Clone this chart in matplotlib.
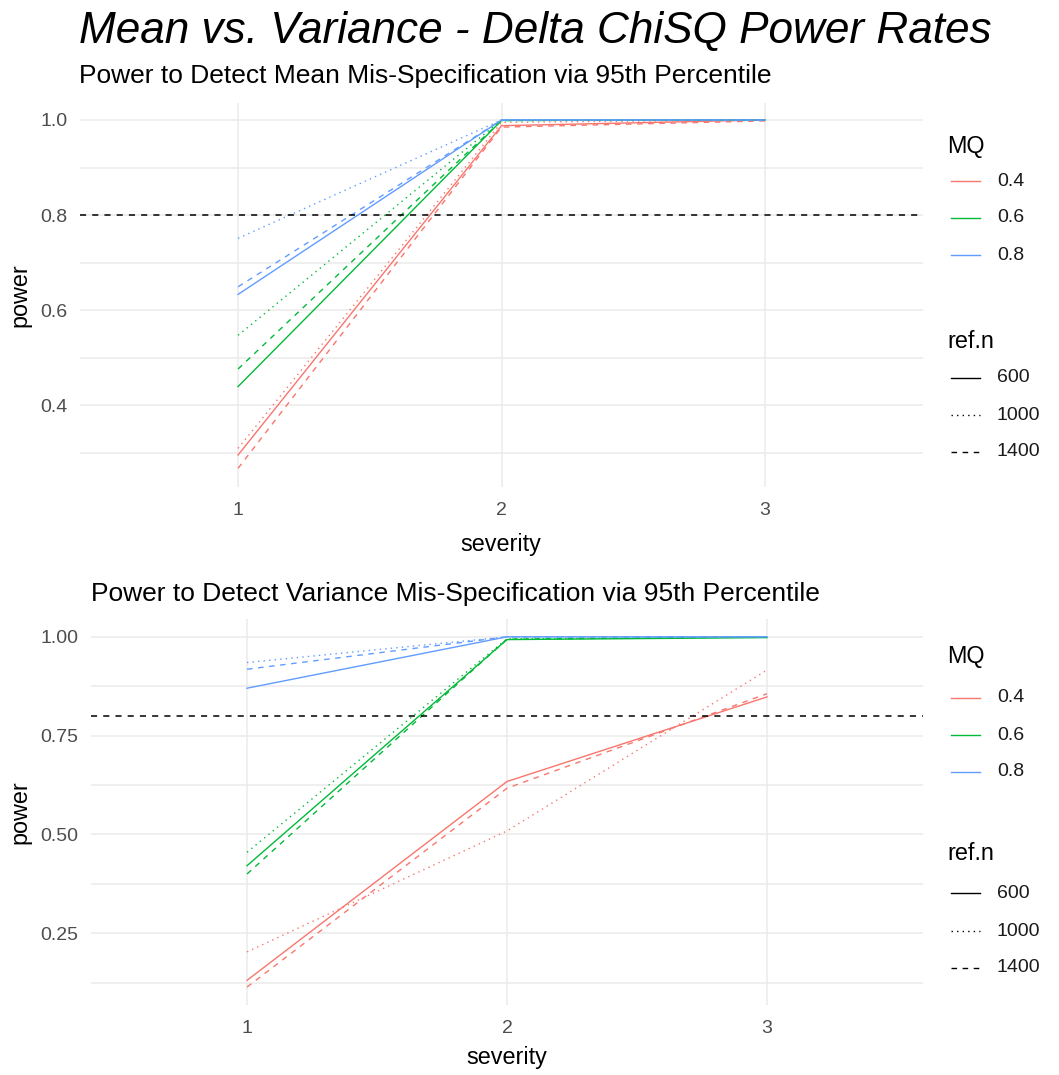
import numpy as np
import matplotlib.pyplot as plt
from matplotlib.lines import Line2D

plt.rcParams['font.family'] = ['Liberation Sans', 'DejaVu Sans']

# DATA
severity = [1, 2, 3]
mq_levels = ["0.4", "0.6", "0.8"]
refn_levels = ["600", "1000", "1400"]

# mean mis-specification (top panel), one list per MQ / ref.n
mean_04 = {"600": [0.295, 0.988, 1.0], "1000": [0.309, 0.995, 1.0], "1400": [0.267, 0.985, 0.998]}
mean_06 = {"600": [0.439, 0.999, 1.0], "1000": [0.547, 1.0, 1.0], "1400": [0.476, 0.999, 1.0]}
mean_08 = {"600": [0.633, 1.0, 1.0], "1000": [0.751, 1.0, 1.0], "1400": [0.649, 1.0, 1.0]}

# variance mis-specification (bottom panel)
var_04 = {"600": [0.131, 0.634, 0.848], "1000": [0.203, 0.509, 0.916], "1400": [0.114, 0.617, 0.856]}
var_06 = {"600": [0.421, 0.993, 0.998], "1000": [0.455, 0.995, 1.0], "1400": [0.400, 0.994, 1.0]}
var_08 = {"600": [0.870, 1.0, 1.0], "1000": [0.935, 1.0, 1.0], "1400": [0.918, 1.0, 1.0]}

power_target = 0.8

colors = {"0.4": "#F8766D", "0.6": "#00BA38", "0.8": "#619CFF"}
styles = {"600": "-", "1000": (0, (1, 3)), "1400": (0, (4, 4))}
LW = 1.0

W, H = 1059, 1075
fig = plt.figure(figsize=(W / 100, H / 100), dpi=100)


def box(l, t, r, b):
    return [l / W, 1 - b / H, (r - l) / W, (b - t) / H]


def fx(x):
    return x / W


def fy(y):
    return 1 - y / H


def panel(rect, data, yticks, yminor, fmt):
    ax = fig.add_axes(rect)
    for mq, d in zip(mq_levels, data):
        for rn in refn_levels:
            ax.plot(severity, d[rn], color=colors[mq], linestyle=styles[rn], lw=LW, zorder=3)
    ax.axhline(power_target, color="black", linestyle=(0, (4, 4)), lw=1.1, zorder=4)
    ax.set_xlim(0.4, 3.6)
    ax.set_xticks(severity)
    ax.set_yticks(yticks)
    ax.set_yticks(yminor, minor=True)
    ax.set_yticklabels([fmt % v for v in yticks])
    ax.grid(True, which="both", color="#EBEBEB", lw=1.1, zorder=0)
    ax.set_axisbelow(True)
    ax.tick_params(which="both", length=0, labelsize=14, labelcolor="#4D4D4D")
    ax.tick_params(axis="y", pad=9)
    ax.tick_params(axis="x", pad=11)
    for s in ax.spines.values():
        s.set_visible(False)
    return ax


ax1 = panel(box(80, 102.5, 923, 486.7), [mean_04, mean_06, mean_08],
            [0.4, 0.6, 0.8, 1.0], [0.3, 0.5, 0.7, 0.9], "%.1f")
ax1.set_ylim(0.2283, 1.0368)

ax2 = panel(box(91, 619.3, 923, 1004.6), [var_04, var_06, var_08],
            [0.25, 0.5, 0.75, 1.0], [0.125, 0.375, 0.625, 0.875], "%.2f")
ax2.set_ylim(0.0697, 1.0443)

# titles
fig.text(fx(79), fy(43), "Mean vs. Variance - Delta ChiSQ Power Rates",
         fontsize=31.8, style="italic", va="baseline", ha="left")
fig.text(fx(79), fy(82.5), "Power to Detect Mean Mis-Specification via 95th Percentile",
         fontsize=19, va="baseline", ha="left")
fig.text(fx(91), fy(601.5), "Power to Detect Variance Mis-Specification via 95th Percentile",
         fontsize=19, va="baseline", ha="left")

# axis titles
fig.text(fx(501), fy(551), "severity", fontsize=16.8, ha="center", va="baseline")
fig.text(fx(507), fy(1064), "severity", fontsize=16.8, ha="center", va="baseline")
fig.text(fx(20), fy(295), "power", fontsize=16.8, ha="center", va="center", rotation=90)
fig.text(fx(20), fy(812), "power", fontsize=16.8, ha="center", va="center", rotation=90)


# legends
def legend(title1_y, mq_ys, title2_y, rn_ys):
    fig.text(fx(947), fy(title1_y), "MQ", fontsize=16.8, va="baseline")
    for mq, y in zip(mq_levels, mq_ys):
        fig.add_artist(Line2D([fx(951), fx(980)], [fy(y), fy(y)], color=colors[mq], lw=LW))
        fig.text(fx(997), fy(y), mq, fontsize=14, va="center", color="#1A1A1A")
    fig.text(fx(947), fy(title2_y), "ref.n", fontsize=16.8, va="baseline")
    for rn, y in zip(refn_levels, rn_ys):
        fig.add_artist(Line2D([fx(951), fx(980)], [fy(y), fy(y)], color="black",
                              linestyle=styles[rn], lw=LW))
        fig.text(fx(997), fy(y), rn, fontsize=14, va="center", color="#1A1A1A")


legend(152.5, [181, 218, 255], 347.5, [378, 415, 452])
legend(663, [698, 735, 772], 860, [893, 931, 968])

fig.savefig("out.png", dpi=100, facecolor="white")
